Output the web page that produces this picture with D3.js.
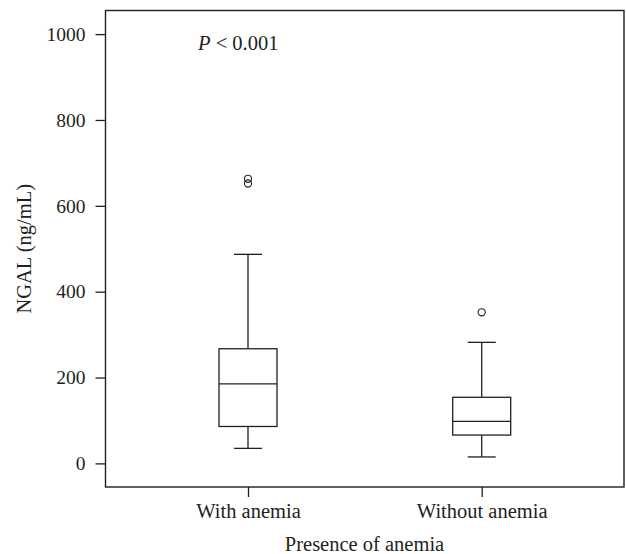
<!DOCTYPE html>
<html><head><meta charset="utf-8">
<script src="https://cdn.jsdelivr.net/npm/d3@7"></script>
<style>body{margin:0;background:#fff}svg{display:block}</style>
</head><body>
<script>
const categories = ["With anemia", "Without anemia"];
const lowerWhisker = [35, 15];
const q1 = [86, 66];
const median = [185, 98];
const q3 = [267, 154];
const upperWhisker = [487, 282];
const outliers = [[663, 652], [352]];
const yTicks = [0, 200, 400, 600, 800, 1000];

const W = 626, H = 554;
const m = {left: 105.5, right: 2, top: 10.5, bottom: 67};
const FONT = "'Liberation Serif', 'Times New Roman', serif";
const FS = "20.5px";
const FT = "19.5px";
const svg = d3.select("body").append("svg").attr("width", W).attr("height", H)
  .style("font-family", FONT);
const ink = "#231f20";

const y = d3.scaleLinear().domain([-55, 1055]).range([H - m.bottom, m.top]);
const x = d3.scalePoint().domain(categories).range([248, 481.7]);

// frame
svg.append("rect").attr("x", m.left).attr("y", m.top)
  .attr("width", W - m.right - m.left).attr("height", H - m.bottom - m.top)
  .attr("fill", "none").attr("stroke", ink).attr("stroke-width", 1.4);

// y axis
const yAxis = svg.append("g").attr("transform", `translate(${m.left},0)`)
  .call(d3.axisLeft(y).tickValues(yTicks).tickSize(10).tickPadding(10).tickFormat(d3.format("d")))
  .attr("font-family", null).attr("font-size", null);
yAxis.select(".domain").remove();
yAxis.selectAll("line").attr("stroke", ink).attr("stroke-width", 1.3);
yAxis.selectAll("text").attr("fill", ink).style("font-size", FT).style("font-family", FONT);

// x axis
const xAxis = svg.append("g").attr("transform", `translate(0,${H - m.bottom})`)
  .call(d3.axisBottom(x).tickSize(10).tickPadding(6))
  .attr("font-family", null).attr("font-size", null);
xAxis.select(".domain").remove();
xAxis.selectAll("line").attr("stroke", ink).attr("stroke-width", 1.3);
xAxis.selectAll("text").attr("fill", ink).style("font-size", FS).style("font-family", FONT);

const boxW = 58, capW = 28;
const g = svg.append("g").attr("stroke", ink).attr("stroke-width", 1.3).attr("fill", "none");
categories.forEach((c, i) => {
  const cx = x(c);
  g.append("line").attr("x1", cx).attr("x2", cx).attr("y1", y(upperWhisker[i])).attr("y2", y(q3[i]));
  g.append("line").attr("x1", cx).attr("x2", cx).attr("y1", y(q1[i])).attr("y2", y(lowerWhisker[i]));
  g.append("line").attr("x1", cx - capW/2).attr("x2", cx + capW/2).attr("y1", y(upperWhisker[i])).attr("y2", y(upperWhisker[i]));
  g.append("line").attr("x1", cx - capW/2).attr("x2", cx + capW/2).attr("y1", y(lowerWhisker[i])).attr("y2", y(lowerWhisker[i]));
  g.append("rect").attr("x", cx - boxW/2).attr("width", boxW).attr("y", y(q3[i])).attr("height", y(q1[i]) - y(q3[i])).attr("fill", "#fff");
  g.append("line").attr("x1", cx - boxW/2).attr("x2", cx + boxW/2).attr("y1", y(median[i])).attr("y2", y(median[i]));
  outliers[i].forEach(v => {
    g.append("circle").attr("cx", cx).attr("cy", y(v)).attr("r", 3.6).attr("stroke-width", 1.1);
  });
});

// p-value
const pt = svg.append("text").attr("x", 198).attr("y", 50).attr("fill", ink).style("font-size", FS);
pt.append("tspan").style("font-style", "italic").text("P");
pt.append("tspan").text(" < 0.001");

// axis titles
svg.append("text").attr("x", 364.5).attr("y", 551).attr("text-anchor", "middle")
  .attr("fill", ink).style("font-size", FS).text("Presence of anemia");
svg.append("text").attr("transform", `translate(31,${(m.top + H - m.bottom) / 2}) rotate(-90)`)
  .attr("text-anchor", "middle").attr("fill", ink).style("font-size", FS).text("NGAL (ng/mL)");
</script>
</body></html>
